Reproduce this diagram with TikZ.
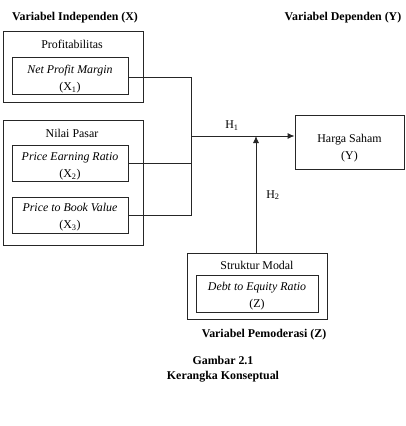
\documentclass[tikz,border=0pt]{standalone}
\usepackage{fontspec}
\setmainfont{Liberation Serif}
\usetikzlibrary{arrows.meta}
\begin{document}
\begin{tikzpicture}[x=1pt,y=-1pt,
  txt/.style={font=\fontsize{11.9}{17}\selectfont, inner sep=0pt, align=center},
  ttl/.style={font=\fontsize{11.9}{15}\selectfont\bfseries, inner sep=0pt, align=center},
  box/.style={draw=black!85, line width=0.9pt, inner sep=0pt, minimum width=#1},
  conn/.style={draw=black!85, line width=0.9pt},
  arr/.style={conn, -{Latex[length=7pt,width=6pt]}}]
\useasboundingbox (0,0) rectangle (405,426);

\node[ttl] (tx) at (75,18) {Variabel Independen (X)};
\node[ttl] (ty) at (343,18) {Variabel Dependen (Y)};

% Profitabilitas
\node[box=140pt, minimum height=71pt] (prof) at (73,66.5) {};
\node[txt] (proft) at (72,44) {Profitabilitas};
\node[box=116pt, minimum height=37pt] (npm) at (70,75.5) {};
\node[txt] (npmt) at (70,79.5) {\textit{Net Profit Margin}\\(X\textsubscript{1})};

% Nilai Pasar
\node[box=140pt, minimum height=125pt] (np) at (73,182.5) {};
\node[txt] (npt) at (72,133.5) {Nilai Pasar};
\node[box=116pt, minimum height=36pt] (per) at (70,163) {};
\node[txt] (pert) at (70,166.5) {\textit{Price Earning Ratio}\\(X\textsubscript{2})};
\node[box=116pt, minimum height=36pt] (pbv) at (70,215) {};
\node[txt] (pbvt) at (70,217.5) {\textit{Price to Book Value}\\(X\textsubscript{3})};

% Harga Saham
\node[box=109pt, minimum height=54pt] (hs) at (349.5,142) {};
\node[txt] (hst) at (349.5,148) {Harga Saham\\(Y)};

% Struktur Modal
\node[box=140pt, minimum height=66pt] (sm) at (257,286) {};
\node[txt] (smt) at (257,265) {Struktur Modal};
\node[box=122pt, minimum height=37pt] (der) at (257,293.5) {};
\node[txt] (dert) at (257,296.5) {\textit{Debt to Equity Ratio}\\(Z)};
\node[ttl] (tz) at (264,335) {Variabel Pemoderasi (Z)};

\node[ttl] (cap) at (223,369) {Gambar 2.1\\Kerangka Konseptual};

% connectors
\coordinate (j) at (191,136);
\draw[conn] (npm.east |- 0,77) -| (j);
\draw[conn] (per.east) -| (j);
\draw[conn] (pbv.east) -| (j);
\draw[arr] (j) -- (j -| hs.west);
\draw[arr] (sm.north -| 256,0) -- (256,136);

\node[txt] (h1) at (232,126) {H\textsubscript{1}};
\node[txt] (h2) at (273,195) {H\textsubscript{2}};
\end{tikzpicture}
\end{document}
